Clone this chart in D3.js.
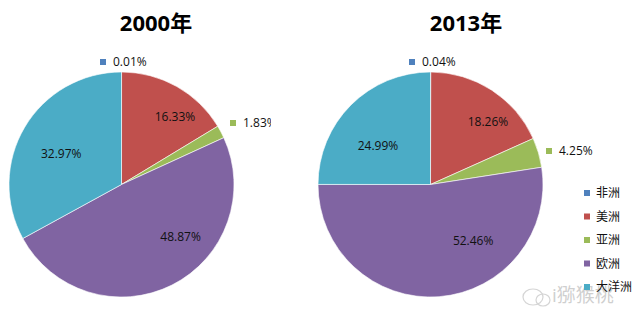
<!DOCTYPE html>
<html><head><meta charset="utf-8">
<script src="https://cdn.jsdelivr.net/npm/d3@7"></script>
<style>
body{margin:0;background:#fff;}
svg{display:block;}
text{font-family:"Open Sans","Noto Sans CJK SC",sans-serif;}
</style></head>
<body>
<svg id="c" width="640" height="325"></svg>
<script>
const categories = ["非洲","美洲","亚洲","欧洲","大洋洲"];
const colors = ["#4F81BD","#C0504D","#9BBB59","#8064A2","#4BACC6"];
const years = ["2000年","2013年"];
const values2000 = [0.01,16.33,1.83,48.87,32.97];
const values2013 = [0.04,18.26,4.25,52.46,24.99];
const labels2000 = ["0.01%","16.33%","1.83%","48.87%","32.97%"];
const labels2013 = ["0.04%","18.26%","4.25%","52.46%","24.99%"];

const svg = d3.select("#c");
const R = 112.5;
// inside label placement: [angle offset in degrees from slice mid-angle, radius fraction]
const charts = [
  {title: years[0], values: values2000, labels: labels2000, cx: 121.5, cy: 184.5, tx: 156, clipW: 271,
   outside: {0: [100, 59], 2: [230, 120]}, inside: {1: [9, 0.765], 3: [-22, 0.70], 4: [-4, 0.60]}},
  {title: years[1], values: values2013, labels: labels2013, cx: 430.5, cy: 184.5, tx: 466, clipW: 640,
   outside: {0: [409, 59], 2: [546, 148]}, inside: {1: [9.6, 0.755], 3: [-32.6, 0.63], 4: [-8.7, 0.58]}}
];

const pie = d3.pie().sort(null).value(d => d);
const arc = d3.arc().innerRadius(0).outerRadius(R);

// watermark
const wm = svg.append("g").attr("opacity", 0.35);
wm.append("text").attr("x", 552).attr("y", 302).attr("font-size", 19)
  .attr("font-family", "Noto Sans CJK SC").attr("fill", "#777").text("i猕猴桃");
wm.append("ellipse").attr("cx", 533).attr("cy", 297).attr("rx", 10).attr("ry", 8)
  .attr("fill", "none").attr("stroke", "#888").attr("stroke-width", 1.2);
wm.append("ellipse").attr("cx", 543).attr("cy", 300).attr("rx", 7).attr("ry", 6)
  .attr("fill", "none").attr("stroke", "#888").attr("stroke-width", 1.2);

charts.forEach((c, ci) => {
  const clipId = "clip" + ci;
  svg.append("clipPath").attr("id", clipId).append("rect")
    .attr("x", 0).attr("y", 0).attr("width", c.clipW).attr("height", 325);
  const root = svg.append("g").attr("clip-path", `url(#${clipId})`);

  root.append("text").attr("x", c.tx).attr("y", 31).attr("text-anchor", "middle")
    .attr("font-size", 22).attr("font-weight", "bold").attr("fill", "#000")
    .attr("font-family", "'Open Sans','Noto Sans CJK SC',sans-serif")
    .text(c.title);

  const g = root.append("g").attr("transform", `translate(${c.cx},${c.cy})`);
  const arcs = pie(c.values);
  g.selectAll("path").data(arcs).join("path")
    .attr("d", arc)
    .attr("fill", (d, i) => colors[i])
    .attr("stroke", "#fff").attr("stroke-width", 0.6);

  arcs.forEach((d, i) => {
    const p = c.inside[i];
    if (p !== undefined) {
      const a = (d.startAngle + d.endAngle) / 2 + p[0] * Math.PI / 180;
      const r = R * p[1];
      g.append("text")
        .attr("x", Math.sin(a) * r).attr("y", -Math.cos(a) * r)
        .attr("text-anchor", "middle").attr("dy", "0.35em")
        .attr("font-size", 12).attr("fill", "#111")
        .text(c.labels[i]);
    }
  });
  Object.entries(c.outside).forEach(([k, p]) => {
    const i = +k;
    root.append("rect").attr("x", p[0]).attr("y", p[1]).attr("width", 6).attr("height", 6)
      .attr("fill", colors[i]);
    root.append("text").attr("x", p[0] + 13).attr("y", p[1] + 3)
      .attr("dy", "0.35em").attr("font-size", 12).attr("fill", "#111")
      .text(c.labels[i]);
  });
});

// legend
const leg = svg.append("g");
categories.forEach((name, i) => {
  const y = 193 + i * 23.5;
  leg.append("rect").attr("x", 584).attr("y", y - 3).attr("width", 6).attr("height", 6)
    .attr("fill", colors[i]);
  leg.append("text").attr("x", 596).attr("y", y).attr("dy", "0.35em")
    .attr("font-size", 12).attr("font-family", "Noto Sans CJK SC").attr("fill", "#111")
    .text(name);
});
</script>
</body></html>
